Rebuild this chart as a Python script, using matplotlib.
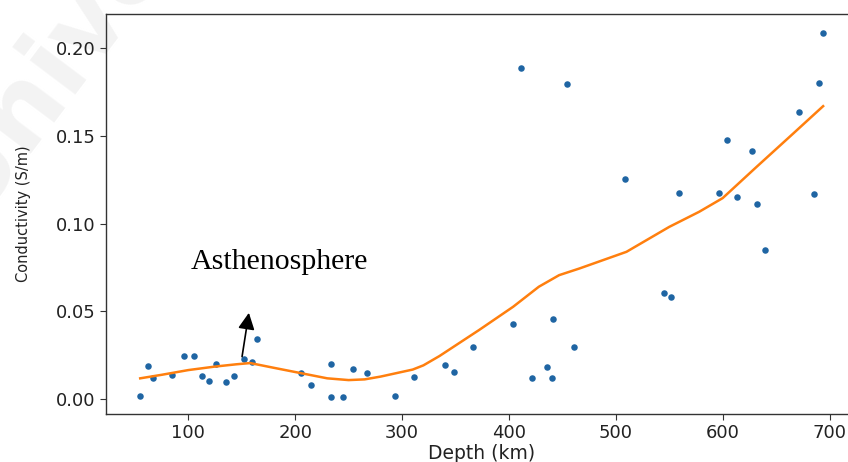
import matplotlib
matplotlib.use("Agg")
import matplotlib.pyplot as plt

# Measured conductivity samples
depth_km = [55, 62, 67, 85, 96, 105, 113, 119, 126, 135, 143, 152, 160, 164,
            205, 215, 233.5, 233.5, 245, 254, 267, 293, 311, 340, 349, 366.5,
            404, 411, 422, 436, 440, 441, 454, 461, 509, 545.5, 552, 559, 597,
            604, 613, 627, 632, 640, 671, 685, 690, 694]
conductivity = [0.0019, 0.0186, 0.0118, 0.0135, 0.0245, 0.0245, 0.0133, 0.0104,
                0.0197, 0.0099, 0.0133, 0.0228, 0.0209, 0.0343,
                0.0150, 0.0081, 0.0201, 0.0013, 0.0013, 0.0171, 0.0146, 0.0019,
                0.0125, 0.0195, 0.0156, 0.0294,
                0.0425, 0.1889, 0.0118, 0.0180, 0.0118, 0.0456, 0.1798, 0.0294,
                0.1253, 0.0602, 0.0579, 0.1175, 0.1175,
                0.1479, 0.1149, 0.1414, 0.1114, 0.0849, 0.1633, 0.1166, 0.1801,
                0.2088]

# Smoothed trend
trend_depth = [55, 75, 100, 125, 145, 158, 180, 205, 230, 250, 265, 280, 295,
               310, 320, 335, 350, 372, 404, 428, 447, 466, 510, 550, 578, 600,
               631, 666, 694]
trend_cond = [0.0118, 0.0138, 0.0165, 0.0185, 0.0198, 0.0205, 0.0178, 0.0148,
              0.0118, 0.0108, 0.0112, 0.0128, 0.0148, 0.0168, 0.0192, 0.0245,
              0.0305, 0.0393, 0.0526, 0.0640, 0.0706, 0.0744, 0.0839, 0.0981,
              0.1067, 0.1145, 0.1319, 0.1513, 0.1669]

y_ticks = [0.00, 0.05, 0.10, 0.15, 0.20]
x_ticks = [100, 200, 300, 400, 500, 600, 700]

fig = plt.figure(figsize=(8.48, 4.62), dpi=100)
fig.patch.set_facecolor("white")

# faint background watermark
fig.text(-0.033, 0.525, "University", rotation=53, rotation_mode="anchor",
         ha="left", va="baseline", fontsize=75, fontweight="bold",
         color="#f3f3f3", zorder=-1, family="DejaVu Sans")

ax = fig.add_axes([0.125, 0.104, 0.886, 0.866])
ax.set_facecolor("none")

ax.scatter(depth_km, conductivity, s=22, color="#1f65a3", zorder=3,
           linewidths=0)
ax.plot(trend_depth, trend_cond, color="#ff7f0e", lw=1.8, zorder=4)

ax.set_xlim(23.0, 726.0)
ax.set_ylim(-0.0085, 0.2195)
ax.set_xticks(x_ticks)
ax.set_yticks(y_ticks)
ax.set_yticklabels([f"{v:.2f}" for v in y_ticks])
ax.tick_params(axis="both", labelsize=13, color="#333333", length=4,
               labelcolor="#222222")

for side in ("top", "left", "bottom", "right"):
    ax.spines[side].set_color("#333333")
    ax.spines[side].set_linewidth(1.0)

ax.set_xlabel("Depth (km)", fontsize=13.5, labelpad=1, color="#222222")
ax.set_ylabel("Conductivity (S/m)", fontsize=10.5, labelpad=18,
              color="#222222")

ax.annotate("", xy=(157.1, 0.0507), xytext=(149.9, 0.0226),
            arrowprops=dict(arrowstyle="-|>,head_length=1.0,head_width=0.5",
                            color="black", lw=1.2), zorder=5)
ax.text(102.5, 0.0739, "Asthenosphere", family="Liberation Serif",
        fontsize=21.5, color="black", ha="left", va="baseline", zorder=5)

fig.savefig("out.png", dpi=100, facecolor="white")
